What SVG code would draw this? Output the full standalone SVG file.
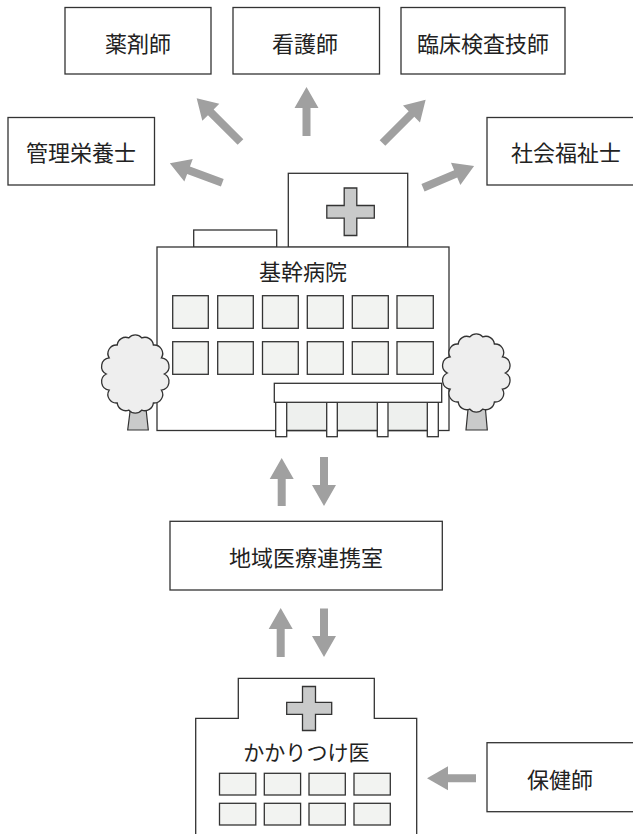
<svg xmlns="http://www.w3.org/2000/svg" width="633" height="834" viewBox="0 0 633 834">
  <style>
    .box { fill: #ffffff; stroke: #333333; stroke-width: 1.3; }
    .wall { fill: #ffffff; stroke: #333333; stroke-width: 1.3; }
    .win { fill: #f2f3f1; stroke: #333333; stroke-width: 1.3; }
    .cross { fill: #c9caca; stroke: #333333; stroke-width: 1.3; }
    .crown { fill: #eeeeee; stroke: #333333; stroke-width: 1.3; }
    .trunk { fill: #c9caca; stroke: #333333; stroke-width: 1.2; }
    .glass { fill: #eef0ee; stroke: none; }
    .arrow { fill: #a0a0a0; }
    .label { font-family: "Noto Sans CJK JP", "Noto Sans", sans-serif; font-size: 22px; fill: #222222; text-anchor: middle; dominant-baseline: central; }
  </style>
  <defs>
    <path id="crown" d="M29,0 A8.5,8.5 0 0 1 26.13,16.05 A8.5,8.5 0 0 1 18.08,28.93 A8.5,8.5 0 0 1 6.45,36.07 A8.5,8.5 0 0 1 -6.45,36.07 A8.5,8.5 0 0 1 -18.08,28.93 A8.5,8.5 0 0 1 -26.13,16.05 A8.5,8.5 0 0 1 -29,0 A8.5,8.5 0 0 1 -26.13,-16.05 A8.5,8.5 0 0 1 -18.08,-28.93 A8.5,8.5 0 0 1 -6.45,-36.07 A8.5,8.5 0 0 1 6.45,-36.07 A8.5,8.5 0 0 1 18.08,-28.93 A8.5,8.5 0 0 1 26.13,-16.05 A8.5,8.5 0 0 1 29,0 Z"/>
  </defs>

  <!-- profession boxes -->
  <g id="pharmacist">
    <rect class="box" x="65" y="7.5" width="146" height="66.5"/>
    <text class="label" x="138" y="41.5">薬剤師</text>
  </g>
  <g id="nurse">
    <rect class="box" x="233" y="7.5" width="146.5" height="66.5"/>
    <text class="label" x="305" y="41.5">看護師</text>
  </g>
  <g id="lab-technician">
    <rect class="box" x="401" y="7.5" width="164" height="66.5"/>
    <text class="label" x="483" y="41.5">臨床検査技師</text>
  </g>
  <g id="dietitian">
    <rect class="box" x="8" y="117.5" width="146.5" height="67.5"/>
    <text class="label" x="81" y="151">管理栄養士</text>
  </g>
  <g id="social-worker">
    <rect class="box" x="487" y="117.5" width="160" height="67.5"/>
    <text class="label" x="566" y="151">社会福祉士</text>
  </g>

  <!-- core hospital -->
  <g id="core-hospital">
    <rect class="wall" x="288.3" y="173.3" width="119.4" height="74"/>
    <rect class="wall" x="193.7" y="230" width="83" height="17.3"/>
    <path class="cross" d="M344.2,188 H356.8 V205.5 H374.3 V218.1 H356.8 V235.5 H344.2 V218.1 H326.8 V205.5 H344.2 Z"/>
    <rect class="wall" x="157" y="247" width="292" height="183.5"/>
    <text class="label" x="303" y="270">基幹病院</text>
    <g>
      <rect class="win" x="172.7" y="295.7" width="35.6" height="32.6"/>
      <rect class="win" x="217.7" y="295.7" width="35.6" height="32.6"/>
      <rect class="win" x="262.5" y="295.7" width="35.8" height="32.6"/>
      <rect class="win" x="307.3" y="295.7" width="36" height="32.6"/>
      <rect class="win" x="352.3" y="295.7" width="36" height="32.6"/>
      <rect class="win" x="397" y="295.7" width="36.3" height="32.6"/>
      <rect class="win" x="172.7" y="341.7" width="35.6" height="32.6"/>
      <rect class="win" x="217.7" y="341.7" width="35.6" height="32.6"/>
      <rect class="win" x="262.5" y="341.7" width="35.8" height="32.6"/>
      <rect class="win" x="307.3" y="341.7" width="36" height="32.6"/>
      <rect class="win" x="352.3" y="341.7" width="36" height="32.6"/>
      <rect class="win" x="397" y="341.7" width="36.3" height="32.6"/>
    </g>
    <!-- entrance -->
    <rect class="glass" x="286.7" y="402.3" width="140.6" height="28"/>
    <line x1="276" y1="430.5" x2="438" y2="430.5" stroke="#333333" stroke-width="1.3"/>
    <rect class="wall" x="275.7" y="402.3" width="11" height="34.4"/>
    <rect class="wall" x="326.7" y="402.3" width="10.6" height="34.4"/>
    <rect class="wall" x="377.3" y="402.3" width="10.7" height="34.4"/>
    <rect class="wall" x="427.3" y="402.3" width="11" height="34.4"/>
    <rect class="wall" x="274.3" y="383.3" width="167.4" height="19"/>
    <!-- trees -->
    <path class="trunk" d="M131,404 L145.5,404 L148.3,430 L127.7,430 Z"/>
    <use href="#crown" class="crown" transform="translate(135.3,374)"/>
    <path class="trunk" d="M468.5,404 L485,404 L487.3,430 L466,430 Z"/>
    <use href="#crown" class="crown" transform="translate(476.3,373)"/>
  </g>

  <!-- regional liaison office -->
  <g id="liaison-office">
    <rect class="box" x="170" y="521.3" width="272.3" height="68.7"/>
    <text class="label" x="306" y="556">地域医療連携室</text>
  </g>

  <!-- family doctor clinic -->
  <g id="clinic">
    <path class="wall" d="M195.7,840 V718.3 H238.3 V678.3 H374.3 V718.3 H416.7 V840"/>
    <path class="cross" d="M302.5,686.5 H315.5 V702.3 H331.7 V714.3 H315.5 V730.5 H302.5 V714.3 H286.7 V702.3 H302.5 Z"/>
    <text class="label" x="306.3" y="751" style="font-size:21px">かかりつけ医</text>
    <rect class="win" x="219.5" y="773.3" width="36.3" height="21.7"/>
    <rect class="win" x="264.3" y="773.3" width="36.3" height="21.7"/>
    <rect class="win" x="309" y="773.3" width="36.3" height="21.7"/>
    <rect class="win" x="354" y="773.3" width="36.3" height="21.7"/>
    <rect class="win" x="219.5" y="803.3" width="36.3" height="21.7"/>
    <rect class="win" x="264.3" y="803.3" width="36.3" height="21.7"/>
    <rect class="win" x="309" y="803.3" width="36.3" height="21.7"/>
    <rect class="win" x="354" y="803.3" width="36.3" height="21.7"/>
  </g>

  <g id="public-health-nurse">
    <rect class="box" x="487" y="742.7" width="160" height="69"/>
    <text class="label" x="560" y="777.5">保健師</text>
  </g>

  <!-- connectors: block arrows, tail at origin pointing along +x -->
  <g id="connectors">
    <path class="arrow" transform="translate(240.5,142) rotate(-135)" d="M0,-4 H42 V-12 L62,0 L42,12 V4 H0 Z"/>
    <path class="arrow" transform="translate(306.5,136) rotate(-90)" d="M0,-4 H28 V-12 L49,0 L28,12 V4 H0 Z"/>
    <path class="arrow" transform="translate(382.5,143) rotate(-45)" d="M0,-4 H41 V-12 L61,0 L41,12 V4 H0 Z"/>
    <path class="arrow" transform="translate(222.3,182.8) rotate(-159.6)" d="M0,-4 H36 V-12 L56,0 L36,12 V4 H0 Z"/>
    <path class="arrow" transform="translate(423,187.7) rotate(-23)" d="M0,-4 H35.5 V-12 L55.5,0 L35.5,12 V4 H0 Z"/>
    <path class="arrow" transform="translate(281.7,506) rotate(-90)" d="M0,-4 H27 V-12 L48,0 L27,12 V4 H0 Z"/>
    <path class="arrow" transform="translate(324,457) rotate(90)" d="M0,-4 H28 V-12 L49,0 L28,12 V4 H0 Z"/>
    <path class="arrow" transform="translate(280.7,657) rotate(-90)" d="M0,-4 H28 V-12 L49,0 L28,12 V4 H0 Z"/>
    <path class="arrow" transform="translate(324,608.5) rotate(90)" d="M0,-4 H27.5 V-12 L48.5,0 L27.5,12 V4 H0 Z"/>
    <path class="arrow" transform="translate(476,778.3) rotate(180)" d="M0,-4 H28 V-12 L49,0 L28,12 V4 H0 Z"/>
  </g>
</svg>
